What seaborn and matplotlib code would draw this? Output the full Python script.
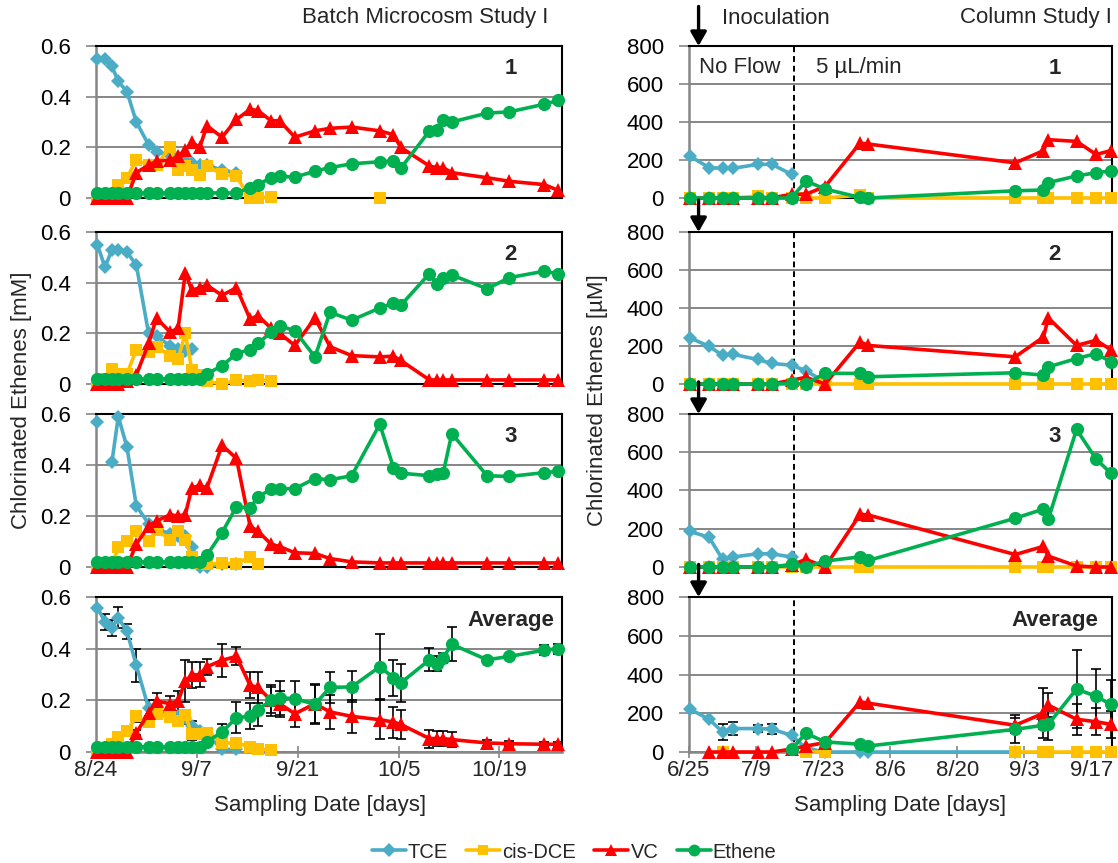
import numpy as np
import pandas as pd
import matplotlib
matplotlib.use("Agg")
import matplotlib.pyplot as plt
import seaborn as sns
from matplotlib.lines import Line2D

sns.set_theme(style="white")
plt.rcParams['font.family'] = ['Liberation Sans', 'DejaVu Sans']

nan = np.nan

# ---------------- Batch microcosm study (days after 8/24) ----------------
batch_days = [0.2, 1.25, 2.2, 3.1, 4.3, 5.6, 7.3, 8.4, 10.3, 11.4, 12.4, 13.3, 14.4, 15.4,
              17.5, 19.5, 21.4, 22.5, 24.3, 25.5, 27.6, 30.4, 32.5, 35.5, 39.4, 41.3, 42.3,
              46.3, 47.3, 48.2, 49.4, 54.3, 57.4, 62.2, 64.2]
batch_tick_days = [0, 14, 28, 42, 56]
batch_tick_labels = ['8/24', '9/7', '9/21', '10/5', '10/19']

b1_tce = [0.55, 0.55, 0.52, 0.46, 0.42, 0.30, 0.21, 0.18, 0.17, 0.16, 0.15, 0.14, 0.13, 0.13,
          0.11, 0.10] + [nan] * 19
b1_dce = [0, 0, 0.01, 0.05, 0.08, 0.15, 0.13, 0.13, 0.20, 0.11, 0.125, 0.11, 0.09, 0.125,
          0.095, 0.085, 0, 0, 0.005, nan, nan, nan, nan, nan, 0] + [nan] * 10
b1_vc = [0, 0, 0, 0, 0, 0.10, 0.13, 0.145, 0.15, 0.165, 0.19, 0.22, 0.20, 0.285, 0.24, 0.31,
         0.35, 0.345, 0.305, 0.305, 0.24, 0.265, 0.275, 0.28, 0.265, 0.25, 0.20, 0.126, 0.12,
         0.12, 0.10, 0.08, 0.066, 0.053, 0.03]
b1_eth = [0.02] * 16 + [0.04, 0.053, 0.08, 0.086, 0.082, 0.106, 0.12, 0.135, 0.143, 0.146,
                        0.117, 0.265, 0.27, 0.307, 0.30, 0.335, 0.34, 0.37, 0.385]

b2_tce = [0.55, 0.46, 0.53, 0.53, 0.52, 0.47, 0.20, 0.19, 0.15, 0.14, 0.13, 0.14] + [nan] * 23
b2_dce = [0, 0.02, 0.06, 0.04, 0.04, 0.136, 0.125, 0.147, 0.11, 0.10, 0.20, 0.056, 0.036,
          0.01, 0, 0.015, 0.013, 0.016, 0.013] + [nan] * 16
b2_vc = [0, 0, 0, 0, 0.01, 0.036, 0.16, 0.26, 0.205, 0.22, 0.44, 0.37, 0.38, 0.39, 0.35, 0.38,
         0.256, 0.27, 0.22, 0.20, 0.152, 0.26, 0.147, 0.112, 0.107, 0.11, 0.093] + [0.016] * 8
b2_eth = [0.02] * 13 + [0.04, 0.072, 0.12, 0.136, 0.16, 0.205, 0.23, 0.21, 0.107, 0.283, 0.252,
                        0.30, 0.32, 0.31, 0.436, 0.396, 0.42, 0.43, 0.376, 0.42, 0.445, 0.435]

b3_tce = [0.57, nan, 0.41, 0.59, 0.47, 0.24, 0.17, 0.15, 0.13, 0.12, 0.12, 0.08, 0.0, 0.0,
          0.01, 0.01] + [nan] * 19
b3_dce = [0, 0, 0, 0.08, 0.10, 0.14, 0.10, 0.146, 0.106, 0.14, 0.106, 0.04, 0.016, 0.01,
          0.016, 0.013, 0.04, 0.01] + [nan] * 17
b3_vc = [0, 0, 0, 0, 0, 0.09, 0.16, 0.18, 0.205, 0.20, 0.205, 0.31, 0.32, 0.31, 0.477, 0.426,
         0.16, 0.14, 0.09, 0.08, 0.056, 0.053, 0.033, 0.02] + [0.016] * 11
b3_eth = [0.02] * 13 + [0.046, 0.135, 0.236, 0.232, 0.275, 0.305, 0.307, 0.307, 0.347, 0.342,
                        0.358, 0.56, 0.39, 0.368, 0.358, 0.364, 0.368, 0.523, 0.358, 0.355,
                        0.37, 0.375]

ba_tce = [0.559, 0.503, 0.48, 0.52, 0.467, 0.335, 0.17, 0.16, 0.15, 0.14, 0.13, 0.10, 0.08,
          0.07, 0.01, 0.01] + [nan] * 19
ba_tce_err = [0, 0.03, 0.03, 0.04, 0.03, 0.065, 0.03, 0.02, 0.02, 0.02, 0.02, 0.02, 0.01,
              0.01, 0.01, 0.01] + [nan] * 19
ba_dce = [0, 0, 0.03, 0.06, 0.08, 0.138, 0.116, 0.146, 0.135, 0.12, 0.142, 0.068, 0.07, 0.074,
          0.035, 0.035, 0.02, 0.013, 0.006] + [nan] * 16
ba_dce_err = [0, 0, 0.01, 0.01, 0.01, 0.02, 0.02, 0.02, 0.02, 0.02, 0.02, 0.02, 0.02, 0.02,
              0.02, 0.02, 0.01, 0.01, 0.01] + [nan] * 16
ba_vc = [0, 0, 0, 0, 0, 0.074, 0.15, 0.197, 0.187, 0.197, 0.275, 0.297, 0.30, 0.33, 0.355, 0.37,
         0.258, 0.25, 0.20, 0.187, 0.148, 0.187, 0.155, 0.138, 0.125, 0.116, 0.107, 0.052,
         0.052, 0.052, 0.048, 0.035, 0.032, 0.03, 0.03]
ba_vc_err = [0, 0, 0, 0, 0, 0.01, 0.02, 0.03, 0.03, 0.04, 0.08, 0.05, 0.05, 0.03, 0.065, 0.035,
             0.05, 0.06, 0.05, 0.05, 0.05, 0.075, 0.065, 0.065, 0.075, 0.06, 0.055, 0.035,
             0.03, 0.03, 0.03, 0.01, 0.01, 0.01, 0.01]
ba_eth = [0.02] * 13 + [0.04, 0.077, 0.133, 0.138, 0.164, 0.20, 0.21, 0.206, 0.185, 0.25, 0.252,
                        0.33, 0.288, 0.267, 0.357, 0.342, 0.365, 0.417, 0.357, 0.37, 0.394, 0.40]
ba_eth_err = [0] * 13 + [0.01, 0.03, 0.06, 0.05, 0.065, 0.06, 0.065, 0.07, 0.075, 0.06, 0.06,
                         0.125, 0.07, 0.075, 0.045, 0.03, 0.02, 0.065, 0.01, 0.01, 0.02, 0.02]

# ---------------- Column study (days after 6/25) ----------------
col_days = [0.2, 4.2, 7.0, 9.1, 14.3, 17.3, 21.4, 24.4, 28.4, 35.7, 37.4, 68.1, 74.0, 75.0,
            80.9, 85.0, 88.0]
col_tick_days = [0, 14, 28, 42, 56, 70, 84]
col_tick_labels = ['6/25', '7/9', '7/23', '8/6', '8/20', '9/3', '9/17']
inoculation_day = 2
flow_start_day = 22

c1_tce = [220, 160, 156, 156, 177, 177, 125] + [nan] * 10
c1_dce = [0, 0, 0, 0, 10, 0, 0, 0, 0, 15, 0, 0, 0, 0, 0, 0, 0]
c1_vc = [0, 0, 0, 0, 0, 0, 20, 20, 60, 289, 284, 185, 249, 307, 298, 229, 249]
c1_eth = [0, 0, 0, 0, 0, 0, 0, 90, 47, 3, 0, 38, 42, 81, 116, 133, 142]

c2_tce = [243, 198, 151, 157, 129, 108, 99, 70, 10] + [nan] * 8
c2_dce = [0] * 17
c2_vc = [0, 0, 0, 0, 0, 0, 20, 35, 0, 221, 203, 143, 247, 348, 203, 230, 181]
c2_eth = [0, 0, 0, 0, 0, 0, 3, 0, 56, 56, 38, 59, 47, 90, 134, 160, 117]

c3_tce = [186, 155, 40, 52, 69, 69, 52] + [nan] * 10
c3_dce = [0] * 17
c3_vc = [0, 0, 0, 0, 0, 0, 10, 40, 0, 275, 272, 65, 108, 57, 5, 0, 0]
c3_eth = [0, 0, 0, 0, 0, 0, 14, 0, 31, 53, 34, 255, 303, 250, 719, 564, 492]

ca_tce = [221, 169, 104, 121, 121, 118, 86, 20, 0, 0, 0, 0] + [nan] * 5
ca_tce_err = [0, 0, 40, 35, 20, 25, 0, 0, 0, 0, 0, 0] + [nan] * 5
ca_dce = [nan, nan, 0, nan, nan, nan, nan, 0, 0, nan, nan, 0, 0, 0, 0, 0, 0]
ca_vc = [nan, 0, 0, 0, 0, 0, 15, 31, 48, 259, 252, 138, 200, 242, 169, 156, 143]
ca_vc_err = [nan, 0, 0, 0, 0, 0, 0, 0, 0, 0, 0, 40, 130, 60, 80, 70, 70]
ca_eth = [nan] * 6 + [14, 97, 52, 40, 31, 117, 138, 143, 325, 287, 247]
ca_eth_err = [nan] * 6 + [0, 0, 0, 0, 0, 72, 20, 80, 200, 142, 124]

series_names = ['TCE', 'cis-DCE', 'VC', 'Ethene']
series_colors = ['#4BACC6', '#FFC000', '#FF0000', '#00B050']
series_markers = ['D', 's', '^', 'o']
series_ms = [7.5, 8.0, 9.5, 9.5]
LW = 2.6
FS = 16

W, H = 1118, 863
fig = plt.figure(figsize=(W / 100, H / 100), dpi=100)

rows_px = [(46, 198), (232, 384), (414, 567), (597, 752)]
cols_px = [(96, 562), (689, 1112)]
GRAY = '#868686'


def make_ax(col, row):
    x0, x1 = cols_px[col]
    y0, y1 = rows_px[row]
    return fig.add_axes([x0 / W, 1 - y1 / H, (x1 - x0) / W, (y1 - y0) / H])


def draw_series(ax, days, vals, k):
    df = pd.DataFrame({'day': days, 'val': vals})
    df['seg'] = df['val'].isna().cumsum()
    df = df.dropna()
    for _, g in df.groupby('seg'):
        sns.lineplot(data=g, x='day', y='val', ax=ax, color=series_colors[k],
                     marker=series_markers[k], markersize=series_ms[k], markeredgewidth=0,
                     linewidth=LW, clip_on=False, zorder=3 + k, legend=False,
                     estimator=None, sort=False)


def draw_err(ax, days, vals, errs):
    d = np.array(days, float)
    v = np.array(vals, float)
    e = np.array(errs, float)
    m = ~np.isnan(v) & ~np.isnan(e) & (np.nan_to_num(e) > 0)
    ax.errorbar(d[m], v[m], yerr=e[m], fmt='none', ecolor='black', elinewidth=1.2,
                capsize=3.5, capthick=1.2, zorder=2.5, clip_on=False)


def style_ax(ax, row, ylim, yticks, yticklabels, xlim, xticks, xticklabels):
    ax.set_xlim(*xlim)
    ax.set_ylim(*ylim)
    ax.set_yticks(yticks)
    ax.set_yticklabels(yticklabels, fontsize=FS)
    ax.yaxis.grid(True, color=GRAY, linewidth=1.4)
    ax.xaxis.grid(False)
    ax.set_axisbelow(True)
    for s in ['top', 'right']:
        ax.spines[s].set_color('black')
        ax.spines[s].set_linewidth(1.5)
    ax.spines['left'].set_color(GRAY)
    ax.spines['left'].set_linewidth(1.8)
    ax.tick_params(axis='y', direction='out', length=7, width=1.2, color=GRAY, pad=11,
                   labelcolor='black', left=True)
    if row == 3:
        ax.spines['bottom'].set_color(GRAY)
        ax.spines['bottom'].set_linewidth(1.8)
        ax.set_xticks(xticks)
        ax.set_xticklabels(xticklabels, fontsize=FS)
        ax.tick_params(axis='x', direction='inout', length=8, width=1.2, color=GRAY,
                       bottom=True, pad=2)
    else:
        ax.spines['bottom'].set_color('black')
        ax.spines['bottom'].set_linewidth(1.5)
        ax.set_xticks([])
    ax.set_xlabel('')
    ax.set_ylabel('')


batch_panels = [
    (b1_tce, b1_dce, b1_vc, b1_eth, '1'),
    (b2_tce, b2_dce, b2_vc, b2_eth, '2'),
    (b3_tce, b3_dce, b3_vc, b3_eth, '3'),
    (ba_tce, ba_dce, ba_vc, ba_eth, 'Average'),
]
col_panels = [
    (c1_tce, c1_dce, c1_vc, c1_eth, '1'),
    (c2_tce, c2_dce, c2_vc, c2_eth, '2'),
    (c3_tce, c3_dce, c3_vc, c3_eth, '3'),
    (ca_tce, ca_dce, ca_vc, ca_eth, 'Average'),
]

for r, panel in enumerate(batch_panels):
    ax = make_ax(0, r)
    if r == 3:
        draw_err(ax, batch_days, ba_tce, ba_tce_err)
        draw_err(ax, batch_days, ba_dce, ba_dce_err)
        draw_err(ax, batch_days, ba_vc, ba_vc_err)
        draw_err(ax, batch_days, ba_eth, ba_eth_err)
    for k in range(4):
        draw_series(ax, batch_days, panel[k], k)
    style_ax(ax, r, (0, 0.6), [0, 0.2, 0.4, 0.6], ['0', '0.2', '0.4', '0.6'],
             (0, 64.7), batch_tick_days, batch_tick_labels)
    ax.text(0.89, 0.85, panel[4], transform=ax.transAxes, ha='center', va='center',
            fontsize=FS, fontweight='bold')

for r, panel in enumerate(col_panels):
    ax = make_ax(1, r)
    if r == 3:
        draw_err(ax, col_days, ca_tce, ca_tce_err)
        draw_err(ax, col_days, ca_vc, ca_vc_err)
        draw_err(ax, col_days, ca_eth, ca_eth_err)
    for k in range(4):
        draw_series(ax, col_days, panel[k], k)
    style_ax(ax, r, (0, 800), [0, 200, 400, 600, 800], ['0', '200', '400', '600', '800'],
             (0, 88.3), col_tick_days, col_tick_labels)
    ax.axvline(flow_start_day, color='black', linestyle=(0, (3, 2)), linewidth=1.4, zorder=2)
    ax.text(0.865, 0.85, panel[4], transform=ax.transAxes, ha='center', va='center',
            fontsize=FS, fontweight='bold')
    top = 1.26 if r == 0 else 1.21
    ax.annotate('', xy=(inoculation_day, 1.0), xycoords=('data', 'axes fraction'),
                xytext=(inoculation_day, top), textcoords=('data', 'axes fraction'),
                arrowprops=dict(arrowstyle='-|>,head_length=0.7,head_width=0.4',
                                color='black', lw=2.4, shrinkA=0, shrinkB=0),
                annotation_clip=False)
    if r == 0:
        ax.text(0.024, 0.86, 'No Flow', transform=ax.transAxes, ha='left', va='center',
                fontsize=FS)
        ax.text(0.30, 0.86, '5 µL/min', transform=ax.transAxes, ha='left', va='center',
                fontsize=FS)

# titles and labels
fig.text(548 / W, 1 - 18 / H, 'Batch Microcosm Study I', ha='right', va='center', fontsize=FS)
fig.text(722 / W, 1 - 18 / H, 'Inoculation', ha='left', va='center', fontsize=FS)
fig.text(1112 / W, 1 - 18 / H, 'Column Study I', ha='right', va='center', fontsize=FS)
fig.text(320 / W, 1 - 805 / H, 'Sampling Date [days]', ha='center', va='center', fontsize=FS)
fig.text(900 / W, 1 - 805 / H, 'Sampling Date [days]', ha='center', va='center', fontsize=FS)
fig.text(22 / W, 1 - 400 / H, 'Chlorinated Ethenes [mM]', ha='center', va='center',
         rotation=90, fontsize=FS)
fig.text(598 / W, 1 - 400 / H, 'Chlorinated Ethenes [µM]', ha='center', va='center',
         rotation=90, fontsize=FS)

handles = [Line2D([0], [0], color=series_colors[k], marker=series_markers[k],
                  markersize=series_ms[k] * 0.9, markeredgewidth=0, linewidth=LW)
           for k in range(4)]
fig.legend(handles, series_names, loc='center', bbox_to_anchor=(574 / W, 1 - 852 / H),
           ncol=4, frameon=False, fontsize=14.5, handlelength=1.7, handletextpad=0.1,
           columnspacing=0.9, borderpad=0)

fig.savefig('out.png', dpi=100)
